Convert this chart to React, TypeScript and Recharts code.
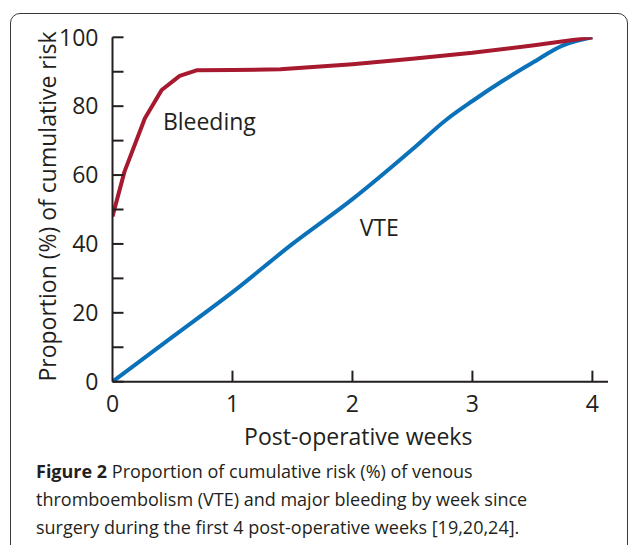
import React from 'react';
import { LineChart, Line, XAxis, YAxis, ReferenceDot, Label } from 'recharts';

const bleedingWeeks = [0, 0.1, 0.27, 0.41, 0.56, 0.7, 1.0, 1.4, 2.0, 2.5, 3.0, 3.5, 4.0];
const bleedingRisk = [48, 61, 76.5, 84.7, 88.8, 90.4, 90.5, 90.7, 92.2, 93.8, 95.5, 97.6, 100];

const vteWeeks = [0, 0.5, 1.0, 1.5, 2.0, 2.5, 2.78, 3.0, 3.25, 3.5, 3.75, 4.0];
const vteRisk = [0, 13, 26, 40, 53, 67.5, 76, 81.5, 87.3, 92.6, 97.6, 100];

const xTicks = [0, 1, 2, 3, 4];
const yTicks = [0, 10, 20, 30, 40, 50, 60, 70, 80, 90, 100];
const yLabelledTicks = [0, 20, 40, 60, 80, 100];

const xTitle = 'Post-operative weeks';
const yTitle = 'Proportion (%) of cumulative risk';
const bleedingLabel = 'Bleeding';
const vteLabel = 'VTE';
const captionBold = 'Figure 2';
const captionLines = [
  ' Proportion of cumulative risk (%) of venous',
  'thromboembolism (VTE) and major bleeding by week since',
  'surgery during the first 4 post-operative weeks [19,20,24].',
];

const bleedingData = bleedingWeeks.map((w, i) => ({ week: w, risk: bleedingRisk[i] }));
const vteData = vteWeeks.map((w, i) => ({ week: w, risk: vteRisk[i] }));

const FONT = '"Open Sans", sans-serif';
const INK = '#231f20';
const RED = '#a6192e';
const BLUE = '#0b72b9';

const YTick = (props: any) => {
  const { x, y, payload } = props;
  const v = payload.value;
  return (
    <g>
      <line x1={x} x2={x + 11} y1={y} y2={y} stroke={INK} strokeWidth={2} />
      {yLabelledTicks.includes(v) && (
        <text x={x - 14} y={y} dy="0.36em" textAnchor="end" fontSize={23} fontFamily={FONT} fill={INK}>
          {v}
        </text>
      )}
    </g>
  );
};

const XTick = (props: any) => {
  const { x, y, payload } = props;
  const v = payload.value;
  return (
    <g>
      {v !== 0 && <line x1={x} x2={x} y1={y} y2={y - 11} stroke={INK} strokeWidth={2} />}
      <text x={x} y={y + 14} dy="0.71em" textAnchor="middle" fontSize={23} fontFamily={FONT} fill={INK}>
        {v}
      </text>
    </g>
  );
};

export default function App() {
  return (
    <div style={{ position: 'absolute', left: 0, top: 0, width: 628, height: 545, overflow: 'hidden', background: '#fff' }}>
      <div
        style={{
          position: 'absolute',
          left: 10,
          top: 13,
          width: 616,
          height: 620,
          border: '1.5px solid #3a3a3a',
          borderRadius: 10,
        }}
      />
      <LineChart
        width={628}
        height={545}
        margin={{ top: 37.3, right: 20, bottom: 103.3, left: 52.5 }}
        style={{ position: 'absolute', left: 0, top: 0 }}
      >
        <XAxis
          type="number"
          dataKey="week"
          domain={[0, 4.13]}
          ticks={xTicks}
          interval={0}
          height={60}
          tickSize={0}
          tickMargin={0}
          tickLine={false}
          tick={<XTick />}
          axisLine={{ stroke: INK, strokeWidth: 2 }}
          allowDataOverflow
        >
          <Label
            content={(p: any) => {
              const vb = p.viewBox;
              return (
                <text x={vb.x + vb.width / 2 - 2} y={vb.y + 55} dy="0.36em" textAnchor="middle" fontSize={23} fontFamily={FONT} fill={INK}>
                  {xTitle}
                </text>
              );
            }}
          />
        </XAxis>
        <YAxis
          type="number"
          domain={[0, 100]}
          ticks={yTicks}
          interval={0}
          width={60}
          tickSize={0}
          tickMargin={0}
          tickLine={false}
          tick={<YTick />}
          axisLine={{ stroke: INK, strokeWidth: 2 }}
          allowDataOverflow
        >
          <Label
            content={(p: any) => {
              const vb = p.viewBox;
              const cx = 48;
              const cy = vb.y + vb.height / 2 - 3;
              return (
                <text x={cx} y={cy} dy="0.36em" textAnchor="middle" fontSize={23} fontFamily={FONT} fill={INK} transform={`rotate(-90 ${cx} ${cy})`}>
                  {yTitle}
                </text>
              );
            }}
          />
        </YAxis>
        <Line data={vteData} dataKey="risk" type="monotone" stroke={BLUE} strokeWidth={4} dot={false} isAnimationActive={false} />
        <Line data={bleedingData} dataKey="risk" type="linear" stroke={RED} strokeWidth={4} dot={false} isAnimationActive={false} strokeLinejoin="round" />
        <ReferenceDot
          x={0.42}
          y={75.4}
          r={0}
          stroke="none"
          fill="none"
          label={{ value: bleedingLabel, position: 'right', offset: 0, fontSize: 23, fontFamily: FONT, fill: INK }}
        />
        <ReferenceDot
          x={2.06}
          y={44.6}
          r={0}
          stroke="none"
          fill="none"
          label={{ value: vteLabel, position: 'right', offset: 0, fontSize: 23, fontFamily: FONT, fill: INK }}
        />
      </LineChart>
      <div
        style={{
          position: 'absolute',
          left: 36,
          top: 457,
          fontFamily: FONT,
          fontSize: 18,
          lineHeight: '28px',
          color: INK,
          whiteSpace: 'nowrap',
        }}
      >
        <div>
          <b>{captionBold}</b>
          {captionLines[0]}
        </div>
        <div>{captionLines[1]}</div>
        <div>{captionLines[2]}</div>
      </div>
    </div>
  );
}
